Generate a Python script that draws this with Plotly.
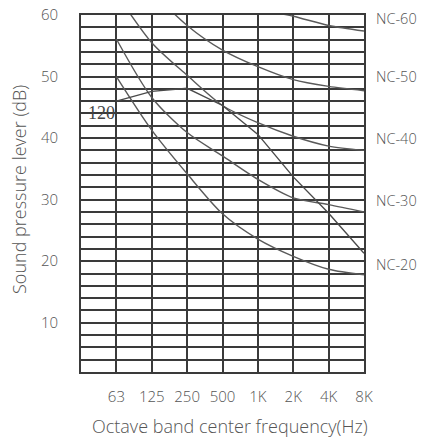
import plotly.graph_objects as go

# octave bands: index 0 is the unlabeled left edge of the chart
band_pos = [1, 2, 3, 4, 5, 6, 7, 8]
band_labels = ['63', '125', '250', '500', '1K', '2K', '4K', '8K']

# NC curves (dB)
nc_60 = [77, 71, 67, 63, 61, 59.8, 58.3, 57.4]
nc_50 = [71, 64, 58.3, 54.3, 51.6, 49.5, 48.4, 47.7]
nc_40 = [63.5, 55.5, 50.2, 45.3, 42.5, 40.3, 38.7, 38.0]
nc_30 = [56.1, 46.6, 40.9, 37.1, 33.3, 30.3, 29.2, 28.0]
nc_20 = [50.0, 41.3, 34.2, 27.7, 23.6, 20.8, 18.7, 17.8]

# measured unit spectrum ("120")
unit_120 = [46.0, 47.6, 48.1, 45.3, 40.6, 33.7, 27.8, 21.3]

nc_names = ['NC-60', 'NC-50', 'NC-40', 'NC-30', 'NC-20']
nc_label_y = [59.5, 50, 40, 29.9, 19.4]

y_lo, y_hi = 2, 60

text_font = dict(family='Open Sans', size=15, color='#555', weight=300)
nc_font = dict(family='Open Sans', size=14.5, color='#555', weight=300)
title_font = dict(family='Open Sans', size=18, color='#555', weight=300)
grid_col = '#3a3a3a'

fig = go.Figure()

for curve in [nc_60, nc_50, nc_40, nc_30, nc_20]:
    fig.add_trace(go.Scatter(x=band_pos, y=curve, mode='lines',
                             line=dict(color='#5a5a5a', width=1.4, shape='spline', smoothing=0.8),
                             showlegend=False, hoverinfo='skip'))

fig.add_trace(go.Scatter(x=band_pos, y=unit_120, mode='lines',
                         line=dict(color='#4a4a4a', width=1.4),
                         showlegend=False, hoverinfo='skip'))

# NC labels sit outside the plot, so they go in paper coordinates
for name, yv in zip(nc_names, nc_label_y):
    fig.add_annotation(x=1.036, y=(yv - y_lo) / (y_hi - y_lo), xref='paper', yref='paper',
                       text=name, showarrow=False, xanchor='left', yanchor='middle',
                       font=nc_font)

fig.add_annotation(x=0.57, y=44.1, xref='x', yref='y', text='120', showarrow=False,
                   font=dict(family='Liberation Sans Narrow', size=18, color='#444'))

# axis titles as annotations for exact placement
fig.add_annotation(x=0.527, y=-0.151, xref='paper', yref='paper',
                   text='Octave band center frequency(Hz)', showarrow=False,
                   xanchor='center', yanchor='middle', font=title_font)
fig.add_annotation(x=-0.219, y=0.51, xref='paper', yref='paper',
                   text='Sound pressure lever (dB)', showarrow=False, textangle=-90,
                   xanchor='center', yanchor='middle', font=title_font)

fig.update_layout(
    width=422, height=438,
    margin=dict(l=81, r=58, t=15, b=66),
    paper_bgcolor='white', plot_bgcolor='white',
    showlegend=False,
    xaxis=dict(range=[0, 8], tickvals=band_pos, ticktext=band_labels,
               showgrid=True, gridcolor=grid_col, gridwidth=1.6,
               showline=True, mirror=True, linecolor=grid_col, linewidth=1.6,
               zeroline=False, ticks='', ticklabelstandoff=10,
               tickfont=text_font, automargin=False, ticklabeloverflow='allow'),
    yaxis=dict(range=[y_lo, y_hi], tickvals=[10, 20, 30, 40, 50, 60],
               showgrid=True, gridcolor=grid_col, gridwidth=1.6,
               minor=dict(tick0=0, dtick=2, showgrid=True, gridcolor=grid_col, gridwidth=1.6),
               showline=True, mirror=True, linecolor=grid_col, linewidth=1.6,
               zeroline=False, ticks='', ticklabelstandoff=18,
               tickfont=text_font, automargin=False, ticklabeloverflow='allow'),
)

# drop the default 8px page margin so the figure fills the window exactly
fig.write_html("out.html", config={'displayModeBar': False},
               post_script="document.body.style.margin='0';")
